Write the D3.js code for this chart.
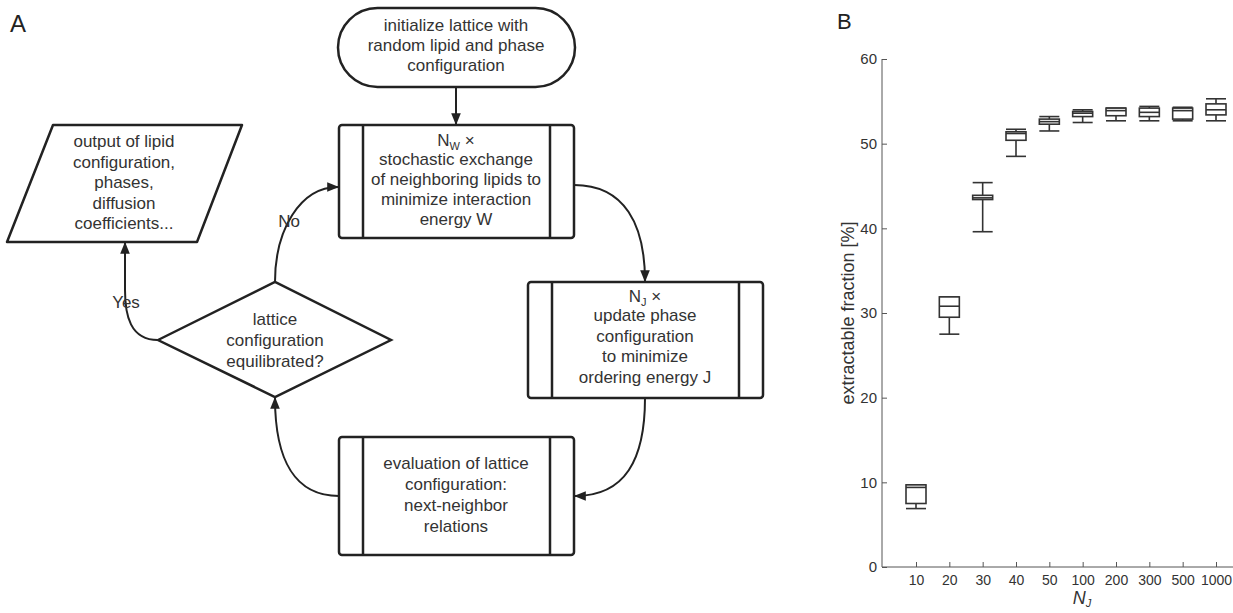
<!DOCTYPE html>
<html>
<head>
<meta charset="utf-8">
<script src="https://cdn.jsdelivr.net/npm/d3@7"></script>
<style>
  body { margin: 0; background: #fff; }
  svg { font-family: "Liberation Sans", Arial, sans-serif; }
</style>
</head>
<body>
<div id="fig"></div>
<script>
// box plot data (panel B)
const categories = ["10", "20", "30", "40", "50", "100", "200", "300", "500", "1000"];
const whiskerLow = [6.9, 27.5, 39.6, 48.5, 51.5, 52.5, 52.7, 52.7, 52.7, 52.7];
const q1 = [7.5, 29.5, 43.4, 50.4, 52.3, 53.2, 53.3, 53.2, 52.9, 53.4];
const median = [9.4, 30.8, 43.6, 51.2, 52.6, 53.6, 53.9, 53.7, 53.9, 54.0];
const q3 = [9.7, 31.9, 43.9, 51.4, 52.9, 53.8, 54.2, 54.2, 54.2, 54.7];
const whiskerHigh = [9.7, 31.9, 45.4, 51.7, 53.2, 54.0, 54.2, 54.4, 54.3, 55.3];
const yTicks = [0, 10, 20, 30, 40, 50, 60];

// flowchart texts (panel A)
const startText = ["initialize lattice with", "random lipid and phase", "configuration"];
const exchangeText = ["stochastic exchange", "of neighboring lipids to", "minimize interaction", "energy W"];
const updateText = ["update phase", "configuration", "to minimize", "ordering energy J"];
const evalText = ["evaluation of lattice", "configuration:", "next-neighbor", "relations"];
const decisionText = ["lattice", "configuration", "equilibrated?"];
const outputText = ["output of lipid", "configuration,", "phases,", "diffusion", "coefficients..."];

const svg = d3.select("#fig").append("svg")
    .attr("width", 1233)
    .attr("height", 613);

const ink = "#222";
const txt = "#333";
const fs = "17px";

//////////
// PANEL A //
//////////

svg.append("defs").append("marker")
    .attr("id", "arrow")
    .attr("viewBox", "0 0 10 10")
    .attr("refX", 9).attr("refY", 5)
    .attr("markerWidth", 6).attr("markerHeight", 6)
    .attr("markerUnits", "strokeWidth")
    .attr("orient", "auto")
    .append("path")
    .attr("d", "M0,1 L10,5 L0,9 Z")
    .attr("fill", ink);

const flow = svg.append("g");

svg.append("text").attr("x", 10).attr("y", 32)
    .style("font-size", "24px").attr("fill", ink).text("A");

function lines(cx, y0, arr, dy) {
    const t = flow.append("text")
        .attr("text-anchor", "middle")
        .attr("fill", txt)
        .style("font-size", fs);
    arr.forEach(function(s, i) {
        t.append("tspan").attr("x", cx).attr("y", y0 + i * dy).text(s);
    });
    return t;
}

function process(x0, y0, x1, y1, bar) {
    flow.append("rect")
        .attr("x", x0).attr("y", y0)
        .attr("width", x1 - x0).attr("height", y1 - y0)
        .attr("rx", 3)
        .attr("fill", "none").attr("stroke", ink).attr("stroke-width", 2.5);
    [x0 + bar, x1 - bar].forEach(function(x) {
        flow.append("line")
            .attr("x1", x).attr("x2", x).attr("y1", y0).attr("y2", y1)
            .attr("stroke", ink).attr("stroke-width", 2.5);
    });
}

function subLabel(cx, y, main, sub) {
    const t = flow.append("text")
        .attr("x", cx).attr("y", y)
        .attr("text-anchor", "middle")
        .attr("fill", txt)
        .style("font-size", fs);
    t.append("tspan").text(main);
    t.append("tspan").attr("dy", 4).style("font-size", "11px").text(sub);
    t.append("tspan").attr("dy", -4).text(" ×");
}

// start terminator
flow.append("rect")
    .attr("x", 338).attr("y", 8).attr("width", 237).attr("height", 79)
    .attr("rx", 39.5)
    .attr("fill", "none").attr("stroke", ink).attr("stroke-width", 2.5);
lines(456, 31, startText, 20);

// process boxes
process(339, 125, 574, 238, 24);
subLabel(456, 146, "N", "W");
lines(456, 165, exchangeText, 20);

process(528, 282, 763, 398, 24);
subLabel(645, 302, "N", "J");
lines(645, 321, updateText, 20.5);

process(339, 437, 574, 555, 24);
lines(456, 469, evalText, 21);

// decision diamond
flow.append("path")
    .attr("d", "M158,340 L275,282 L391,340 L275,397 Z")
    .attr("fill", "none").attr("stroke", ink).attr("stroke-width", 2.5)
    .attr("stroke-linejoin", "miter");
lines(275, 325, decisionText, 21);

// output parallelogram
flow.append("path")
    .attr("d", "M53,125 L242,125 L197,242 L7,242 Z")
    .attr("fill", "none").attr("stroke", ink).attr("stroke-width", 2.5)
    .attr("stroke-linejoin", "round");
lines(124, 147, outputText, 20.5);

// connectors
const connectors = [
    "M456,87 L456,124",
    "M574,185 C625,185 645,225 645,281",
    "M645,398 C645,460 625,496 575,496",
    "M339,496 C295,496 275,460 275,398",
    "M275,282 C275,230 300,187 338,187",
    "M158,340 C130,340 125,315 125,290 L125,243"
];
flow.selectAll("path.conn")
    .data(connectors)
    .join("path")
    .attr("class", "conn")
    .attr("d", function(d) { return d; })
    .attr("fill", "none")
    .attr("stroke", ink)
    .attr("stroke-width", 2)
    .attr("marker-end", "url(#arrow)");

flow.append("text").attr("x", 289).attr("y", 227)
    .attr("text-anchor", "middle").attr("fill", txt)
    .style("font-size", fs).text("No");
flow.append("text").attr("x", 126).attr("y", 308)
    .attr("text-anchor", "middle").attr("fill", txt)
    .style("font-size", fs).text("Yes");

//////////
// PANEL B //
//////////

svg.append("text").attr("x", 837).attr("y", 29)
    .style("font-size", "22px").attr("fill", ink).text("B");

const x0 = 882, xEnd = 1233;
const y = d3.scaleLinear().domain([0, 60]).range([567, 59]);
const x = d3.scalePoint().domain(categories).range([916, 1216]);

const axisColor = "#555";

const gy = svg.append("g")
    .attr("transform", `translate(${x0},0)`)
    .call(d3.axisLeft(y).tickValues(yTicks).tickSizeInner(-5).tickSizeOuter(0).tickPadding(5));
gy.select(".domain").remove();
gy.selectAll("line").attr("stroke", axisColor);
gy.selectAll("text").attr("fill", txt).style("font-size", "15px")
    .style("font-family", "'Liberation Sans', Arial, sans-serif");

const gx = svg.append("g")
    .attr("transform", `translate(0,${y(0)})`)
    .call(d3.axisBottom(x).tickSizeInner(-5).tickSizeOuter(0).tickPadding(8));
gx.select(".domain").remove();
gx.selectAll("line").attr("stroke", axisColor);
gx.selectAll("text").attr("fill", txt).style("font-size", "14px")
    .style("font-family", "'Liberation Sans', Arial, sans-serif");

svg.append("line")
    .attr("x1", x0).attr("x2", x0).attr("y1", y(60)).attr("y2", y(0))
    .attr("stroke", axisColor).attr("stroke-width", 1);
svg.append("line")
    .attr("x1", x0).attr("x2", xEnd).attr("y1", y(0)).attr("y2", y(0))
    .attr("stroke", axisColor).attr("stroke-width", 1);

svg.append("text")
    .attr("transform", `translate(854,${(y(0) + y(60)) / 2}) rotate(-90)`)
    .attr("text-anchor", "middle")
    .attr("fill", txt)
    .style("font-size", "18px")
    .text("extractable fraction [%]");

const xl = svg.append("text")
    .attr("x", 1082).attr("y", 604)
    .attr("text-anchor", "middle")
    .attr("fill", txt)
    .style("font-size", "18px")
    .style("font-style", "italic");
xl.append("tspan").text("N");
xl.append("tspan").attr("dy", 3).style("font-size", "11px").text("J");

const boxes = categories.map(function(c, i) {
    return { c: c, lo: whiskerLow[i], q1: q1[i], med: median[i], q3: q3[i], hi: whiskerHigh[i] };
});

const bw = 20;
const stroke = "#333";
const gBox = svg.append("g").selectAll("g")
    .data(boxes)
    .join("g")
    .attr("transform", function(d) { return `translate(${x(d.c)},0)`; });

gBox.append("line")
    .attr("y1", function(d) { return y(d.lo); })
    .attr("y2", function(d) { return y(d.q1); })
    .attr("stroke", stroke).attr("stroke-width", 1.6);
gBox.append("line")
    .attr("y1", function(d) { return y(d.q3); })
    .attr("y2", function(d) { return y(d.hi); })
    .attr("stroke", stroke).attr("stroke-width", 1.6);
gBox.append("line")
    .attr("x1", -bw / 2).attr("x2", bw / 2)
    .attr("y1", function(d) { return y(d.lo); })
    .attr("y2", function(d) { return y(d.lo); })
    .attr("stroke", stroke).attr("stroke-width", 1.6);
gBox.append("line")
    .attr("x1", -bw / 2).attr("x2", bw / 2)
    .attr("y1", function(d) { return y(d.hi); })
    .attr("y2", function(d) { return y(d.hi); })
    .attr("stroke", stroke).attr("stroke-width", 1.6);
gBox.append("rect")
    .attr("x", -bw / 2).attr("width", bw)
    .attr("y", function(d) { return y(d.q3); })
    .attr("height", function(d) { return y(d.q1) - y(d.q3); })
    .attr("fill", "#fff")
    .attr("stroke", stroke).attr("stroke-width", 1.6);
gBox.append("line")
    .attr("x1", -bw / 2).attr("x2", bw / 2)
    .attr("y1", function(d) { return y(d.med); })
    .attr("y2", function(d) { return y(d.med); })
    .attr("stroke", stroke).attr("stroke-width", 1.6);
</script>
</body>
</html>
